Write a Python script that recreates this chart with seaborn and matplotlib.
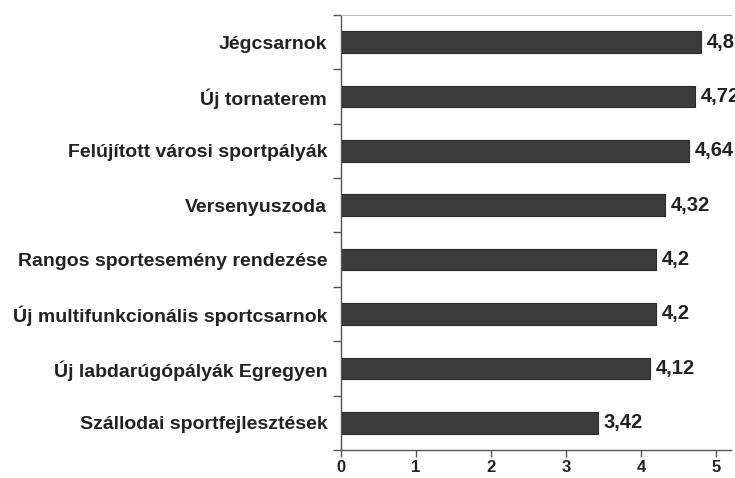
import numpy as np
import pandas as pd
from matplotlib import pyplot as plt
from matplotlib.ticker import FixedLocator
import seaborn as sns

categories = ["Jégcsarnok", "Új tornaterem", "Felújított városi sportpályák",
              "Versenyuszoda", "Rangos sportesemény rendezése",
              "Új multifunkcionális sportcsarnok", "Új labdarúgópályák Egregyen",
              "Szállodai sportfejlesztések"]
values = [4.8, 4.72, 4.64, 4.32, 4.2, 4.2, 4.12, 3.42]
xticks = [0, 1, 2, 3, 4, 5]

df = pd.DataFrame({"Fejlesztés": categories, "Átlag": values})

sns.set_style("white")
plt.rcParams['font.family'] = ['Liberation Sans', 'DejaVu Sans']
plt.rcParams['font.weight'] = 'bold'

fig = plt.figure(figsize=(7.35, 4.78), dpi=100)
ax = fig.add_axes([0.464, 0.0586, 0.5306, 0.9104])

sns.barplot(data=df, x="Átlag", y="Fejlesztés", orient="h", color="#3b3b3b",
            width=0.4, edgecolor="#2a2a2a", linewidth=0.8, saturation=1, ax=ax)

ax.set_xlim(0, 5.2)
ax.set_ylim(len(categories) - 0.5, -0.5)
ax.set_xticks(xticks)
ax.set_xticklabels([str(t) for t in xticks], fontsize=12, fontweight="bold", color="#222222")
ax.set_yticks(range(len(categories)))
ax.set_yticklabels(categories, fontsize=14, fontweight="bold", color="#222222")
ax.yaxis.set_minor_locator(FixedLocator(np.arange(-0.5, len(categories), 1)))
ax.tick_params(axis="y", which="major", length=0, pad=10)
ax.tick_params(axis="y", which="minor", length=6, width=1, color="#555555", left=True)
ax.tick_params(axis="x", which="major", length=5, width=1, color="#555555", bottom=True, pad=2)
ax.set_xlabel("")
ax.set_ylabel("")

for side in ["left", "bottom"]:
    ax.spines[side].set_color("#555555")
    ax.spines[side].set_linewidth(1)
ax.spines["top"].set_color("#bbbbbb")
ax.spines["right"].set_visible(False)

ax.bar_label(ax.containers[0], labels=[str(v).replace(".", ",") for v in values],
             padding=4, fontsize=14.5, fontweight="bold", color="#222222")

fig.savefig("out.png", dpi=100)
